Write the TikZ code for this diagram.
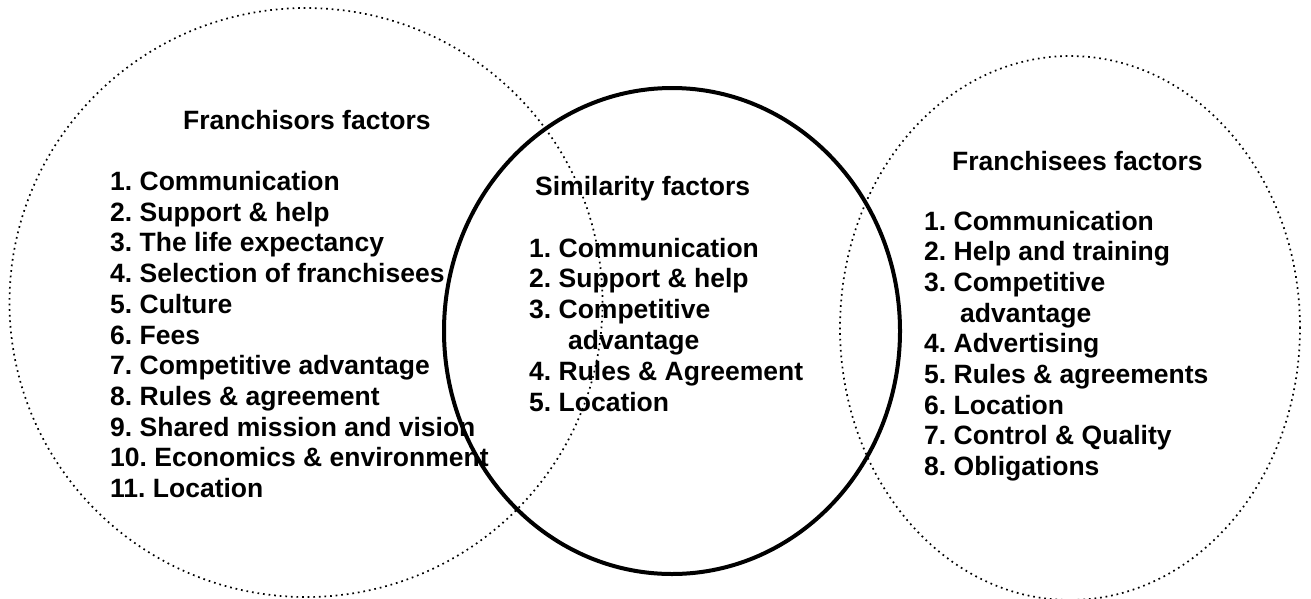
\documentclass[tikz,border=0pt]{standalone}
\usepackage{fontspec}
\setmainfont{Liberation Sans}
\frenchspacing
\begin{document}
\begin{tikzpicture}[x=1pt,y=-1pt,
  dotline/.style={line width=1.7pt,dash pattern=on 1.7pt off 3.9pt},
  solidline/.style={line width=4pt},
  lbl/.style={anchor=base west,inner sep=0pt,font=\frenchspacing\bfseries\fontsize{26.5}{30.7}\selectfont}]
\useasboundingbox (0,0) rectangle (1311,598);
% circles
\draw[dotline] (306,302.5) ellipse [x radius=296.5pt, y radius=294.5pt];
\draw[dotline] (1070,328) ellipse [x radius=230pt, y radius=272pt];
\draw[solidline] (672,331) ellipse [x radius=228pt, y radius=243pt];
% left
\node[lbl] (lt) at (183,129) {Franchisors factors};
\foreach \t [count=\i from 0] in {1. Communication,2. Support \& help,3. The life expectancy,4. Selection of franchisees,5. Culture,6. Fees,7. Competitive advantage,8. Rules \& agreement,9. Shared mission and vision,10. Economics \& environment,11. Location}
  \node[lbl] (l\i) at (110,190.5+30.7*\i) {\t};
% middle
\node[lbl] (mt) at (535,195) {Similarity factors};
\node[lbl] (m1) at (529,257) {1. Communication};
\node[lbl] (m2) at (529,287.8) {2. Support \& help};
\node[lbl] (m3) at (529,318.6) {3. Competitive};
\node[lbl] (m3b) at (568,349.4) {advantage};
\node[lbl] (m4) at (529,380.2) {4. Rules \& Agreement};
\node[lbl] (m5) at (529,411) {5. Location};
% right
\node[lbl] (rt) at (952,170) {Franchisees factors};
\node[lbl] (r1) at (924,230) {1. Communication};
\node[lbl] (r2) at (924,260.7) {2. Help and training};
\node[lbl] (r3) at (924,291.4) {3. Competitive};
\node[lbl] (r3b) at (960,322.1) {advantage};
\node[lbl] (r4) at (924,352.8) {4. Advertising};
\node[lbl] (r5) at (924,383.5) {5. Rules \& agreements};
\node[lbl] (r6) at (924,414.2) {6. Location};
\node[lbl] (r7) at (924,444.9) {7. Control \& Quality};
\node[lbl] (r8) at (924,475.6) {8. Obligations};
\end{tikzpicture}
\end{document}
